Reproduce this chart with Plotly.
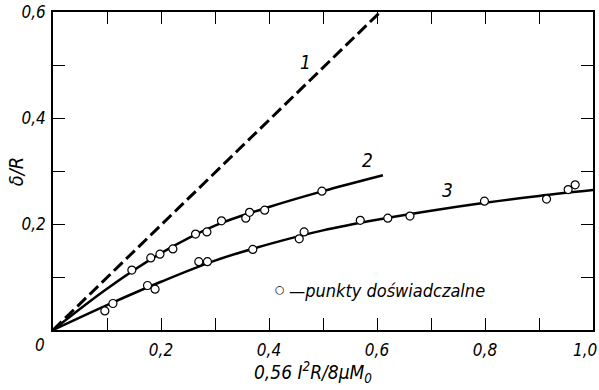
import plotly.graph_objects as go

# ---- data ----
line1_x = [0.0, 0.606]
line1_y = [0.0, 0.600]

curve2_x = [0.0, 0.1, 0.2, 0.3, 0.4, 0.5, 0.611]
curve2_y = [0.0, 0.078, 0.145, 0.197, 0.232, 0.262, 0.292]

curve3_x = [0.0, 0.1, 0.2, 0.3, 0.4, 0.5, 0.6, 0.7, 0.8, 0.9, 1.0]
curve3_y = [0.0, 0.047, 0.091, 0.131, 0.162, 0.188, 0.208, 0.225, 0.240, 0.253, 0.264]

pts2_x = [0.146, 0.181, 0.198, 0.222, 0.264, 0.285, 0.312, 0.357, 0.364, 0.392, 0.498]
pts2_y = [0.113, 0.136, 0.143, 0.153, 0.181, 0.185, 0.206, 0.211, 0.222, 0.226, 0.262]

pts3_x = [0.096, 0.111, 0.175, 0.189, 0.270, 0.286, 0.370, 0.456, 0.465, 0.569,
          0.620, 0.661, 0.799, 0.914, 0.954, 0.967]
pts3_y = [0.036, 0.050, 0.084, 0.077, 0.129, 0.129, 0.152, 0.172, 0.185, 0.207,
          0.211, 0.215, 0.243, 0.247, 0.265, 0.274]

x_tickvals = [0.2, 0.4, 0.6, 0.8]
x_ticktext = ["0,2", "0,4", "0,6", "0,8"]
x_last_val = 1.0
x_last_text = "1,0"
x_minor_vals = [0.1, 0.3, 0.5, 0.7, 0.9, 1.0]
y_tickvals = [0.2, 0.4, 0.6]
y_ticktext = ["0,2", "0,4", "0,6"]
y_minor_vals = [0.1, 0.3, 0.5]

curve_labels = ["1", "2", "3"]
curve_label_x = [0.467, 0.582, 0.730]
curve_label_y = [0.505, 0.320, 0.265]

FONT = "Liberation Sans Narrow, DejaVu Sans Condensed, Liberation Sans, sans-serif"

fig = go.Figure()
fig.add_trace(go.Scatter(x=line1_x, y=line1_y, mode="lines",
                         line=dict(color="black", width=3, dash="12px,5px"),
                         hoverinfo="skip"))
fig.add_trace(go.Scatter(x=curve2_x, y=curve2_y, mode="lines", line_shape="spline",
                         line=dict(color="black", width=2.5)))
fig.add_trace(go.Scatter(x=curve3_x, y=curve3_y, mode="lines", line_shape="spline",
                         line=dict(color="black", width=2.5)))
marker = dict(symbol="circle", size=8, color="white", line=dict(color="black", width=1.2))
fig.add_trace(go.Scatter(x=pts2_x, y=pts2_y, mode="markers", marker=marker))
fig.add_trace(go.Scatter(x=pts3_x, y=pts3_y, mode="markers", marker=marker))

for t, xx, yy in zip(curve_labels, curve_label_x, curve_label_y):
    fig.add_annotation(x=xx, y=yy, text=t, showarrow=False,
                       font=dict(family=FONT, size=19, color="black", style="italic"))

# legend: small circle + text
fig.add_annotation(x=0.42, y=0.076, xanchor="center", yanchor="middle", text="○",
                   showarrow=False,
                   font=dict(family="DejaVu Sans", size=11, color="black"))
fig.add_annotation(x=0.433, y=0.075, xanchor="left", yanchor="middle",
                   text="—punkty doświadczalne", showarrow=False,
                   font=dict(family=FONT, size=18, color="black", style="italic"))

# origin label
fig.add_annotation(x=0, y=0, text="0", showarrow=False, xref="x", yref="y",
                   xshift=-13, yshift=-15,
                   font=dict(family=FONT, size=17, color="black", style="italic"))
# last x tick label, kept inside the page
fig.add_annotation(x=x_last_val, y=0, text=x_last_text, showarrow=False,
                   xref="x", yref="y", xanchor="right", yanchor="middle",
                   xshift=6, yshift=-20,
                   font=dict(family=FONT, size=17, color="black", style="italic"))

# axis titles
fig.add_annotation(x=0.482, y=-0.134, xref="paper", yref="paper",
                   xanchor="center", yanchor="middle",
                   text="0,56 <i>I</i><sup>2</sup>R/8μM<sub>0</sub>", showarrow=False,
                   font=dict(family=FONT, size=19, color="black", style="italic"))
fig.add_annotation(x=-0.068, y=0.50, xref="paper", yref="paper", textangle=-90,
                   xanchor="center", yanchor="middle",
                   text="δ/R", showarrow=False,
                   font=dict(family=FONT, size=20, color="black", style="italic"))

axis_common = dict(showline=True, linecolor="black", linewidth=1.6, mirror="ticks",
                   ticks="inside", ticklen=12, tickwidth=1.3, tickcolor="black",
                   showgrid=False, zeroline=False, ticklabeloverflow="allow",
                   automargin=False,
                   tickfont=dict(family=FONT, size=17, color="black", style="italic"))
minor_common = dict(ticks="inside", ticklen=12, tickwidth=1.3, tickcolor="black",
                    showgrid=False)

fig.update_xaxes(range=[0, 1.0], tickvals=x_tickvals, ticktext=x_ticktext,
                 minor=dict(tickvals=x_minor_vals, **minor_common),
                 ticklabelstandoff=4, **axis_common)
fig.update_yaxes(range=[0, 0.6], tickvals=y_tickvals, ticktext=y_ticktext,
                 minor=dict(tickvals=y_minor_vals, **minor_common),
                 ticklabelstandoff=2, **axis_common)

fig.update_layout(width=599, height=390, margin=dict(l=53, r=6, t=12, b=60),
                  paper_bgcolor="white", plot_bgcolor="white", showlegend=False)

fig.write_html("out.html")
